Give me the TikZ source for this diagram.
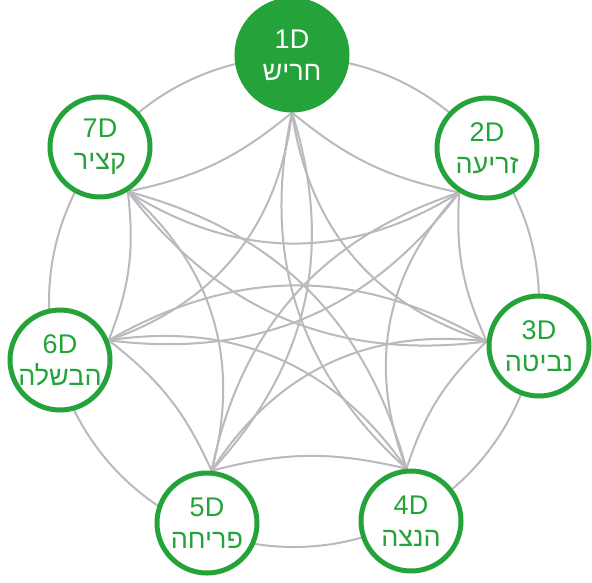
\documentclass[tikz,border=0pt]{standalone}
\usepackage{fontspec}
\setmainfont{Liberation Sans}
\newfontfamily\hebfont[Script=Hebrew]{Liberation Sans}
\TeXXeTstate=1
\usetikzlibrary{backgrounds}
\definecolor{leafgreen}{RGB}{36,163,58}
\definecolor{linkgray}{RGB}{185,185,190}
\begin{document}
\begin{tikzpicture}[x=1pt,y=1pt,
  stage/.style={circle, draw=leafgreen, line width=5pt, fill=white,
    minimum size=#1, inner sep=0pt, text=leafgreen, align=center,
    font=\fontsize{27}{32}\selectfont},
  stage/.default=100pt,
  first/.style={stage=110pt, fill=leafgreen, text=white},
  link/.style={draw=linkgray, line width=2pt},
  near/.style={link, bend right=14},
  mid/.style={link, bend right=32},
  far/.style={link, bend right=30}]
\useasboundingbox (0,0) rectangle (592,-582);

% stages of the cycle
\node[first]  (n1) at (292,-55)  {1D\\{\hebfont\beginR חריש\endR}};
\node[stage]  (n2) at (487,-148) {2D\\{\hebfont\beginR זריעה\endR}};
\node[stage]  (n3) at (539,-346) {3D\\{\hebfont\beginR נביטה\endR}};
\node[stage]  (n4) at (411,-521) {4D\\{\hebfont\beginR הנצה\endR}};
\node[stage]  (n5) at (207,-523) {5D\\{\hebfont\beginR פריחה\endR}};
\node[stage]  (n6) at (60,-360)  {6D\\{\hebfont\beginR הבשלה\endR}};
\node[stage]  (n7) at (100,-147) {7D\\{\hebfont\beginR קציר\endR}};

% each stage gathers its links at one point of its rim
\begin{scope}[on background layer]
  \draw[link] (294,-302) circle[radius=245];
  % neighbours
  \draw[near] (n1.270) to (n2.238);
  \draw[near] (n2.238) to (n3.175);
  \draw[near] (n3.175) to (n4.95);
  \draw[near] (n4.95)  to (n5.85);
  \draw[near] (n5.85)  to (n6.22);
  \draw[near] (n6.22)  to (n7.302);
  \draw[near] (n7.302) to (n1.270);
  % one stage apart
  \draw[mid] (n1.270) to (n3.175);
  \draw[mid] (n2.238) to (n4.95);
  \draw[mid] (n3.175) to (n5.85);
  \draw[mid] (n4.95)  to (n6.22);
  \draw[mid] (n5.85)  to (n7.302);
  \draw[mid] (n6.22)  to (n1.270);
  \draw[mid] (n7.302) to (n2.238);
  % two stages apart
  \draw[far] (n1.270) to (n4.95);
  \draw[far] (n2.238) to (n5.85);
  \draw[far] (n3.175) to (n6.22);
  \draw[far] (n4.95)  to (n7.302);
  \draw[far] (n5.85)  to (n1.270);
  \draw[far] (n6.22)  to (n2.238);
  \draw[far] (n7.302) to (n3.175);
\end{scope}
\end{tikzpicture}
\end{document}
